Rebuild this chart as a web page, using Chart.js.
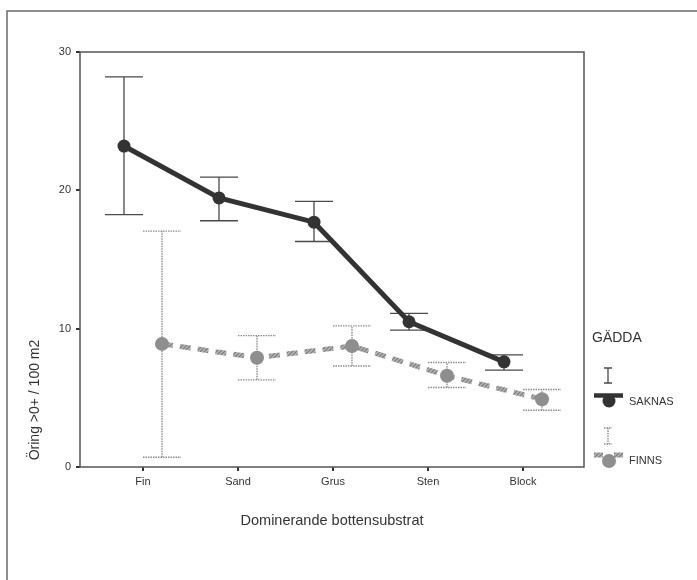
<!DOCTYPE html>
<html>
<head>
<meta charset="utf-8">
<script src="https://cdn.jsdelivr.net/npm/chart.js@4.4.1/dist/chart.umd.min.js"></script>
<style>
  html, body { margin: 0; padding: 0; background: #fff; }
  #wrap { width: 697px; height: 580px; position: relative; }
</style>
</head>
<body>
<div id="wrap"><canvas id="c" width="697" height="580"></canvas></div>
<script>
// ---- data ----
const categories = ['Fin', 'Sand', 'Grus', 'Sten', 'Block'];
const seriesNames = ['SAKNAS', 'FINNS'];
const legendTitle = 'GÄDDA';
const xTitle = 'Dominerande bottensubstrat';
const yTitle = 'Öring >0+ / 100 m2';
const yTicks = [0, 10, 20, 30];

const saknasMean = [23.2, 19.45, 17.7, 10.5, 7.6];
const saknasLow  = [18.25, 17.8, 16.3, 9.9, 7.0];
const saknasHigh = [28.2, 20.95, 19.2, 11.1, 8.1];

const finnsMean = [8.9, 7.9, 8.75, 6.6, 4.9];
const finnsLow  = [0.7, 6.3, 7.3, 5.75, 4.1];
const finnsHigh = [17.05, 9.5, 10.2, 7.55, 5.6];

// ---- styling ----
const FONT = '"Liberation Sans", Arial, Helvetica, sans-serif';
const DARK = '#333333';
const GREY = '#979797';
const OFFSET = 0.2; // horizontal dodge of the two series within a category

function pts(means, dx) {
  return means.map((v, i) => ({ x: i + dx, y: v }));
}

function makeHatch() {
  const p = document.createElement('canvas');
  p.width = 4; p.height = 4;
  const g = p.getContext('2d');
  g.fillStyle = '#b4b4b4';
  g.fillRect(0, 0, 4, 4);
  g.strokeStyle = '#7a7a7a';
  g.lineWidth = 1.2;
  g.beginPath();
  g.moveTo(0, 4); g.lineTo(4, 0);
  g.moveTo(-1, 1); g.lineTo(1, -1);
  g.moveTo(3, 5); g.lineTo(5, 3);
  g.stroke();
  return g.createPattern(p, 'repeat');
}
const ctx0 = document.getElementById('c').getContext('2d');
const hatch = makeHatch();

const errorSets = [
  { low: saknasLow, high: saknasHigh, dx: -OFFSET, color: '#4a4a4a', dash: [] , width: 1.3},
  { low: finnsLow, high: finnsHigh, dx: OFFSET, color: '#8c8c8c', dash: [1.5, 1], width: 1.4 }
];

const decorPlugin = {
  id: 'decor',
  beforeDraw(chart) {
    const c = chart.ctx;
    c.save();
    // outer frame (top and left edges visible)
    c.strokeStyle = '#6a6a6a';
    c.lineWidth = 1.5;
    c.beginPath();
    c.moveTo(7, 590); c.lineTo(7, 11); c.lineTo(700, 11);
    c.stroke();
    c.restore();
  },
  beforeDatasetsDraw(chart) {
    const c = chart.ctx;
    const xs = chart.scales.x, ys = chart.scales.y;
    c.save();
    errorSets.forEach(s => {
      c.strokeStyle = s.color;
      c.lineWidth = s.width;
      c.setLineDash(s.dash);
      s.low.forEach((lo, i) => {
        const xc = xs.getPixelForValue(i + s.dx);
        const xl = xs.getPixelForValue(i + s.dx - OFFSET);
        const xr = xs.getPixelForValue(i + s.dx + OFFSET);
        const yl = ys.getPixelForValue(lo);
        const yh = ys.getPixelForValue(s.high[i]);
        c.beginPath();
        c.moveTo(xc, yl); c.lineTo(xc, yh);
        c.moveTo(xl, yl); c.lineTo(xr, yl);
        c.moveTo(xl, yh); c.lineTo(xr, yh);
        c.stroke();
      });
    });
    c.restore();
  },
  afterDraw(chart) {
    const c = chart.ctx;
    const a = chart.chartArea;
    c.save();
    // plot box
    c.strokeStyle = '#555';
    c.lineWidth = 1.5;
    c.setLineDash([]);
    c.strokeRect(a.left, a.top, a.right - a.left, a.bottom - a.top);

    // axis titles
    c.fillStyle = DARK;
    c.font = '14.5px ' + FONT;
    c.textAlign = 'center';
    c.textBaseline = 'middle';
    c.fillText(xTitle, (a.left + a.right) / 2, 521);
    c.save();
    c.translate(35, 400);
    c.rotate(-Math.PI / 2);
    c.font = '14px ' + FONT;
    c.fillText(yTitle, 0, 0);
    c.restore();

    // legend
    c.textAlign = 'left';
    c.font = '14px ' + FONT;
    c.fillText(legendTitle, 592, 338);

    // SAKNAS symbol
    c.strokeStyle = '#4a4a4a';
    c.lineWidth = 1.3;
    c.beginPath();
    c.moveTo(608, 368); c.lineTo(608, 383);
    c.moveTo(604, 368); c.lineTo(612, 368);
    c.moveTo(604, 383); c.lineTo(612, 383);
    c.stroke();
    c.strokeStyle = DARK;
    c.lineWidth = 4.5;
    c.beginPath();
    c.moveTo(594, 395.5); c.lineTo(623, 395.5);
    c.stroke();
    c.fillStyle = DARK;
    c.beginPath();
    c.arc(609, 401, 6.5, 0, Math.PI * 2);
    c.fill();

    // FINNS symbol
    c.strokeStyle = '#8c8c8c';
    c.lineWidth = 1.4;
    c.setLineDash([1.5, 1]);
    c.beginPath();
    c.moveTo(608, 428); c.lineTo(608, 444);
    c.moveTo(604, 428); c.lineTo(612, 428);
    c.moveTo(604, 444); c.lineTo(612, 444);
    c.stroke();
    c.setLineDash([]);
    c.strokeStyle = hatch;
    c.lineWidth = 5;
    c.beginPath();
    c.moveTo(594, 455); c.lineTo(603, 455);
    c.moveTo(614, 455); c.lineTo(623, 455);
    c.stroke();
    c.fillStyle = '#8e8e8e';
    c.beginPath();
    c.arc(609, 461, 7, 0, Math.PI * 2);
    c.fill();

    c.fillStyle = DARK;
    c.font = '11px ' + FONT;
    c.textBaseline = 'middle';
    c.fillText(seriesNames[0], 629, 402);
    c.fillText(seriesNames[1], 629, 461);
    c.restore();
  }
};

new Chart(ctx0, {
  type: 'line',
  data: {
    datasets: [
      {
        label: seriesNames[0],
        data: pts(saknasMean, -OFFSET),
        borderColor: DARK,
        borderWidth: 5,
        pointRadius: 6.5,
        pointBackgroundColor: DARK,
        pointBorderColor: DARK,
        pointBorderWidth: 0,
        tension: 0
      },
      {
        label: seriesNames[1],
        data: pts(finnsMean, OFFSET),
        borderColor: hatch,
        borderWidth: 5,
        borderDash: [11, 7],
        pointRadius: 7,
        pointBackgroundColor: '#8e8e8e',
        pointBorderColor: '#8e8e8e',
        pointBorderWidth: 0,
        tension: 0
      }
    ]
  },
  options: {
    responsive: false,
    animation: false,
    events: [],
    layout: { padding: { top: 52, right: 113, bottom: 0, left: 0 } },
    plugins: { legend: { display: false }, tooltip: { enabled: false } },
    scales: {
      x: {
        type: 'linear',
        min: -0.663,
        max: 4.642,
        afterFit(s) { s.height = 113; },
        afterBuildTicks(s) { s.ticks = categories.map((c, i) => ({ value: i })); },
        grid: { drawOnChartArea: false, color: '#333', lineWidth: 2, tickLength: 4, drawTicks: true },
        border: { display: false },
        ticks: {
          autoSkip: false,
          maxRotation: 0,
          padding: 4,
          color: DARK,
          font: { family: FONT, size: 11 },
          callback: (v) => categories[v] !== undefined ? categories[v] : ''
        }
      },
      y: {
        type: 'linear',
        min: 0,
        max: 30,
        afterFit(s) { s.width = 80; },
        afterBuildTicks(s) { s.ticks = yTicks.map(v => ({ value: v })); },
        grid: { drawOnChartArea: false, color: '#333', lineWidth: 2, tickLength: 4, drawTicks: true },
        border: { display: false },
        ticks: {
          padding: 5,
          color: DARK,
          font: { family: FONT, size: 11 }
        }
      }
    }
  },
  plugins: [decorPlugin]
});
</script>
</body>
</html>
